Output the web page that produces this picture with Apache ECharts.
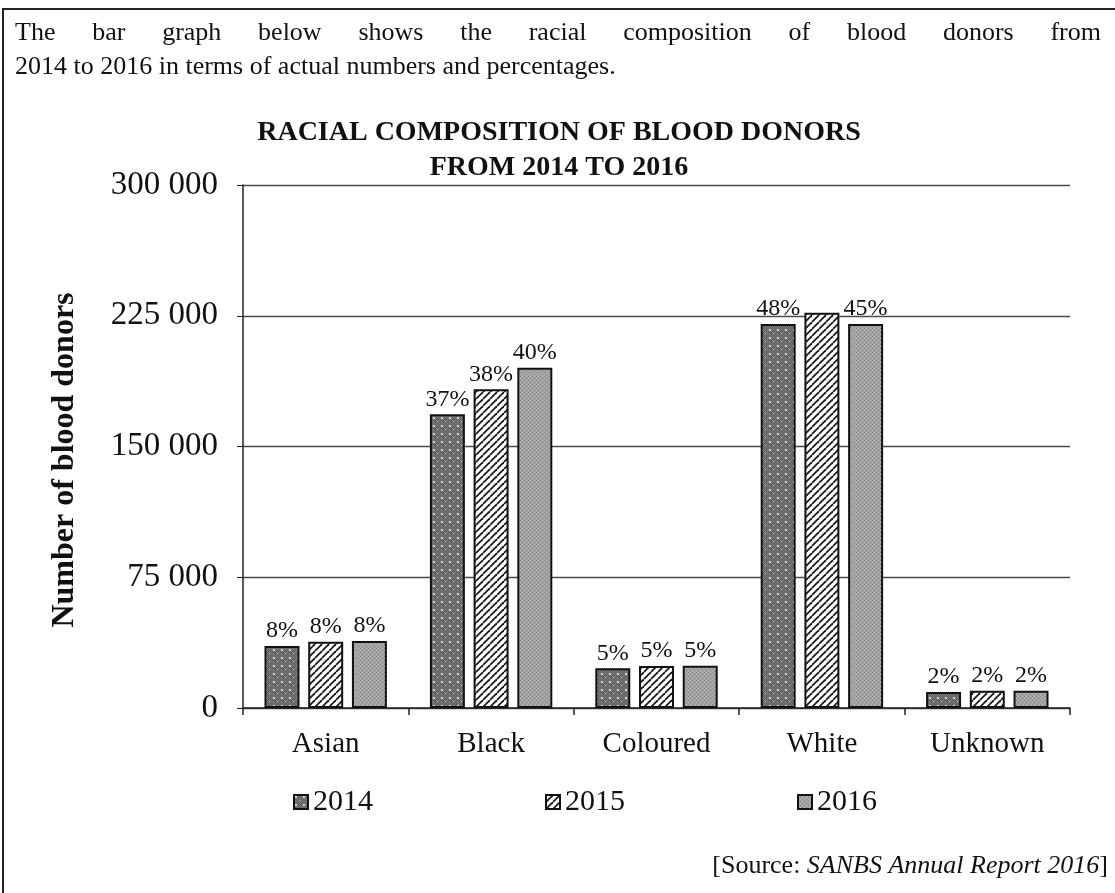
<!DOCTYPE html>
<html lang="en">
<head>
    <meta charset="UTF-8">
    <title>Racial composition of blood donors</title>
    <script src="https://cdn.jsdelivr.net/npm/echarts@6/dist/echarts.min.js"></script>
</head>
<style>
    body{
        margin: 0;
        padding: 0;
        background: #fff;
    }
    #frame{
        position: absolute;
        left: 2px;
        top: 8px;
        width: 1113px;
        height: 885px;
        border-top: 2px solid #222;
        border-left: 2px solid #222;
    }
    #intro{
        position: absolute;
        left: 15px;
        top: 15px;
        width: 1086px;
        font-family: "Liberation Serif", serif;
        font-size: 26px;
        line-height: 34px;
        color: #111;
        z-index: 2;
    }
    #intro .l1{
        text-align: justify;
        text-align-last: justify;
    }
</style>
<body>
<div id="frame"></div>
<div id="main" style="width: 1115px;height:893px;position:absolute;left:0;top:0"></div>
<div id="intro">
    <div class="l1">The bar graph below shows the racial composition of blood donors from</div>
    <div>2014 to 2016 in terms of actual numbers and percentages.</div>
</div>
<script>
    // data
    var races = ['Asian', 'Black', 'Coloured', 'White', 'Unknown'];
    var years = ['2014', '2015', '2016'];
    var donors2014 = [35600, 168500, 22800, 220300, 9200];
    var donors2015 = [38000, 182800, 24100, 226700, 9900];
    var donors2016 = [38400, 195200, 24300, 220300, 9900];
    // percent labels (White 2015 label is hidden in the original)
    var pct2014 = [8, 37, 5, 48, 2];
    var pct2015 = [8, 38, 5, null, 2];
    var pct2016 = [8, 40, 5, 45, 2];
    var yTicks = [0, 75000, 150000, 225000, 300000];

    var serif = '"Liberation Serif", "Times New Roman", serif';

    // small canvas tiles to imitate the printed fill patterns
    function tile(size, draw) {
        var c = document.createElement('canvas');
        c.width = size;
        c.height = size;
        draw(c.getContext('2d'), size);
        return c;
    }
    var dotted = tile(8, function (ctx, s) {
        ctx.fillStyle = '#5e5e5e';
        ctx.fillRect(0, 0, s, s);
        ctx.fillStyle = '#7c7c7c';
        for (var i = 0; i < s; i++) {
            for (var j = 0; j < s; j++) {
                if ((i + j) % 2 === 0) ctx.fillRect(i, j, 1, 1);
            }
        }
        ctx.fillStyle = '#d4d4d4';
        ctx.fillRect(1, 1, 2, 2);
        ctx.fillRect(5, 5, 1, 1);
    });
    var hatched = tile(7, function (ctx, s) {
        ctx.fillStyle = '#ffffff';
        ctx.fillRect(0, 0, s, s);
        ctx.strokeStyle = '#1a1a1a';
        ctx.lineWidth = 1.8;
        for (var k = -1; k <= 1; k++) {
            ctx.beginPath();
            ctx.moveTo(k * s, s);
            ctx.lineTo(k * s + s, 0);
            ctx.stroke();
        }
    });
    var stipple = tile(4, function (ctx, s) {
        ctx.fillStyle = '#a2a2a2';
        ctx.fillRect(0, 0, s, s);
        ctx.fillStyle = '#858585';
        ctx.fillRect(0, 0, 1, 1);
        ctx.fillRect(2, 2, 1, 1);
        ctx.fillStyle = '#bdbdbd';
        ctx.fillRect(2, 0, 1, 1);
        ctx.fillRect(0, 2, 1, 1);
    });

    function makeSeries(name, values, pcts, pattern) {
        return {
            name: name,
            type: 'bar',
            data: values,
            barGap: '25%',
            barCategoryGap: '26%',
            itemStyle: {
                color: {image: pattern, repeat: 'repeat'},
                borderColor: '#111',
                borderWidth: 2
            },
            label: {
                show: true,
                position: 'top',
                distance: 3,
                fontFamily: serif,
                fontSize: 24,
                color: '#111',
                formatter: function (p) {
                    var v = pcts[p.dataIndex];
                    return v == null ? '' : v + '%';
                }
            }
        };
    }

    var chart = echarts.init(document.getElementById('main'));
    var option = {
        backgroundColor: 'transparent',
        animation: false,
        title: {
            text: 'RACIAL COMPOSITION OF BLOOD DONORS\nFROM 2014 TO 2016',
            left: 554,
            top: 110,
            textAlign: 'center',
            textStyle: {
                fontFamily: serif,
                fontWeight: 'bold',
                fontSize: 28,
                lineHeight: 35,
                color: '#111'
            }
        },
        legend: {
            data: years,
            left: 288,
            top: 782,
            icon: 'rect',
            itemWidth: 14,
            itemHeight: 14,
            itemGap: 172,
            textStyle: {
                fontFamily: serif,
                fontSize: 30,
                color: '#111'
            }
        },
        grid: {
            left: 243,
            right: 45,
            top: 185,
            bottom: 185
        },
        xAxis: {
            type: 'category',
            data: races,
            axisLine: {lineStyle: {color: '#222', width: 1.5}},
            axisTick: {show: true, length: 7, lineStyle: {color: '#222', width: 1.5}},
            axisLabel: {
                fontFamily: serif,
                fontSize: 29,
                color: '#111',
                margin: 22
            }
        },
        yAxis: {
            type: 'value',
            min: yTicks[0],
            max: yTicks[yTicks.length - 1],
            interval: yTicks[1] - yTicks[0],
            axisLine: {show: true, lineStyle: {color: '#222', width: 1.5}},
            axisTick: {show: true, length: 6, lineStyle: {color: '#222'}},
            splitLine: {lineStyle: {color: '#4a4a4a', width: 1.3}},
            axisLabel: {
                fontFamily: serif,
                fontSize: 33,
                color: '#111',
                margin: 25,
                formatter: function (v) {
                    return String(v).replace(/\B(?=(\d{3})+(?!\d))/g, ' ');
                }
            }
        },
        graphic: [
            {
                type: 'text',
                x: 65,
                y: 460,
                rotation: Math.PI / 2,
                style: {
                    text: 'Number of blood donors',
                    font: 'bold 32px ' + serif,
                    fill: '#111',
                    align: 'center',
                    verticalAlign: 'middle'
                }
            },
            {
                type: 'text',
                x: 1108,
                y: 866,
                style: {
                    text: '{a|[Source: }{b|SANBS Annual Report 2016}{a|]}',
                    align: 'right',
                    verticalAlign: 'middle',
                    rich: {
                        a: {fontFamily: serif, fontSize: 26, fill: '#111'},
                        b: {fontFamily: serif, fontSize: 26, fontStyle: 'italic', fill: '#111'}
                    }
                }
            }
        ],
        series: [
            makeSeries(years[0], donors2014, pct2014, dotted),
            makeSeries(years[1], donors2015, pct2015, hatched),
            makeSeries(years[2], donors2016, pct2016, stipple)
        ]
    };
    chart.setOption(option);
</script>
</body>
</html>
